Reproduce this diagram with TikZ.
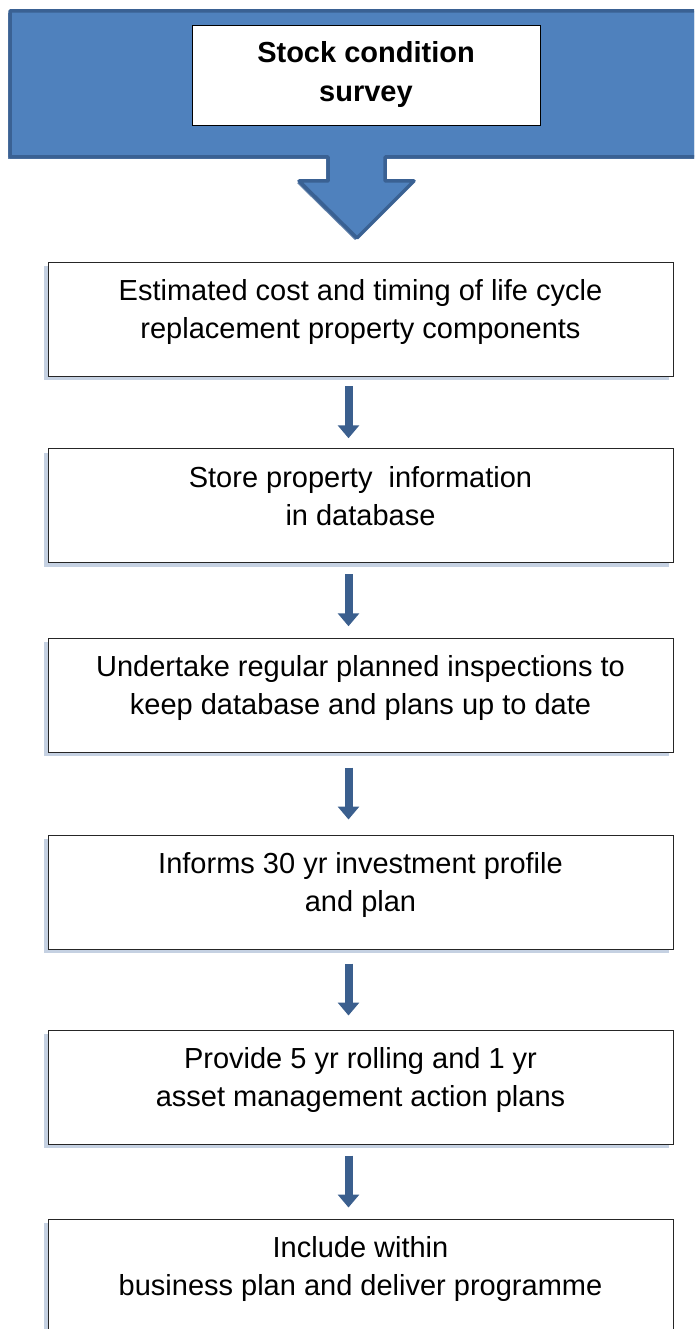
\documentclass[tikz,border=0pt]{standalone}
\usepackage{fontspec}
\setmainfont{Liberation Sans}
\usepackage{tikz}
\usetikzlibrary{arrows.meta, calc, shadows}
\definecolor{officeblue}{HTML}{4F81BD}
\definecolor{officeedge}{HTML}{3A6193}
\definecolor{arrowblue}{HTML}{3B5F8E}
\definecolor{shadowblue}{HTML}{9FB2CE}

\begin{document}
\begin{tikzpicture}[
    x=1pt, y=-1pt,
    font=\fontsize{29}{38}\selectfont,
    bigarrow/.style={draw=officeedge, line width=3.5pt, line join=round, fill=officeblue,
        drop shadow={shadow xshift=-2pt, shadow yshift=-2pt, fill=officeedge, opacity=0.8}},
    titlebox/.style={draw=black, thin, fill=white, minimum width=348pt, minimum height=100pt,
        align=center, font=\fontsize{29}{39}\selectfont\bfseries},
    stepbox/.style={draw=black!85, line width=0.9pt, fill=white, minimum width=625pt,
        minimum height=114pt, align=center, text depth=20pt,
        drop shadow={shadow xshift=-4pt, shadow yshift=-4pt, fill=shadowblue, opacity=0.6}},
    flowarrow/.style={arrowblue, line width=8pt, -{Triangle[width=21pt, length=13pt]}},
]

\useasboundingbox (0,0) rectangle (694,1329);
\clip (0,0) rectangle (694,1329);

% --- Big down-arrow banner (runs off the right edge) ---
\draw[bigarrow] (10,11) -- (720,11) -- (720,157) -- (385,157) -- (385,181) -- (414,181)
    -- (357,238) -- (299,181) -- (328,181) -- (328,157) -- (10,157) -- cycle;
\node[titlebox] (survey) at (366,75) {Stock condition\\survey};

% --- Process steps ---
\node[stepbox] (cost)    at (360.5,319)  {Estimated cost and timing of life cycle\\replacement property components};
\node[stepbox] (store)   at (360.5,505.5) {Store property\ \ information\\in database};
\node[stepbox] (inspect) at (360.5,695)  {Undertake regular planned inspections to\\keep database and plans up to date};
\node[stepbox] (profile) at (360.5,892)  {Informs 30 yr investment profile\\and plan};
\node[stepbox] (rolling) at (360.5,1087) {Provide 5 yr rolling and 1 yr\\asset management action plans};
\node[stepbox] (deliver) at (360.5,1276) {Include within\\business plan and deliver programme};

% --- Connecting arrows, centred in each gap ---
\foreach \a/\b in {cost/store, store/inspect, inspect/profile, profile/rolling, rolling/deliver}
    \draw[flowarrow] ($(\a.south)!0.5!(\b.north)+(-12,-26)$) -- ++(0,52);

\end{tikzpicture}
\end{document}
